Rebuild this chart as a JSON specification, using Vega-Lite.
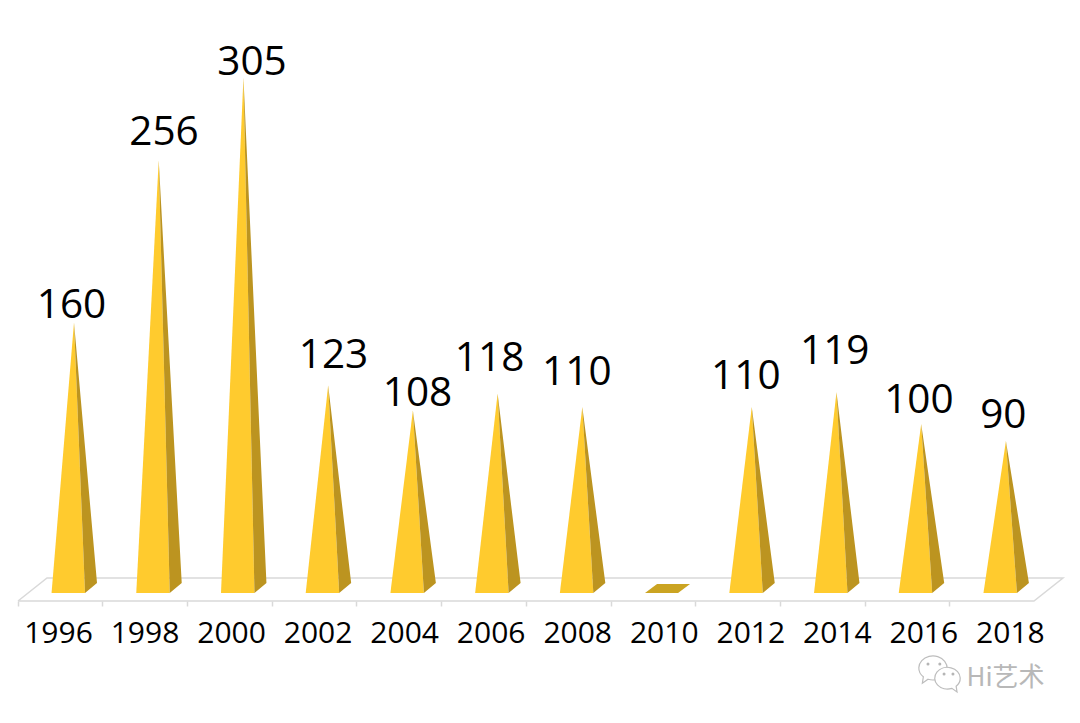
{
"$schema":"https://vega.github.io/schema/vega-lite/v6.json",
"width":1080,"height":723,"padding":0,"autosize":"none","background":"white",
"config":{"view":{"stroke":null}},
"datasets":{
"faces":[
{"year":1996,"face":"front","pos":1995.47,"top":0,"bottom":0},{"year":1996,"face":"front","pos":1996,"top":160,"bottom":0},{"year":1996,"face":"front","pos":1996.26,"top":0,"bottom":0},
{"year":1996,"face":"side","pos":1996,"top":160,"bottom":160},{"year":1996,"face":"side","pos":1996.26,"top":86.2,"bottom":0},{"year":1996,"face":"side","pos":1996.543,"top":5.9,"bottom":5.9},
{"year":1998,"face":"front","pos":1997.47,"top":0,"bottom":0},{"year":1998,"face":"front","pos":1998,"top":256,"bottom":0},{"year":1998,"face":"front","pos":1998.26,"top":0,"bottom":0},
{"year":1998,"face":"side","pos":1998,"top":256,"bottom":256},{"year":1998,"face":"side","pos":1998.26,"top":136.2,"bottom":0},{"year":1998,"face":"side","pos":1998.543,"top":5.9,"bottom":5.9},
{"year":2000,"face":"front","pos":1999.47,"top":0,"bottom":0},{"year":2000,"face":"front","pos":2000,"top":305,"bottom":0},{"year":2000,"face":"front","pos":2000.26,"top":0,"bottom":0},
{"year":2000,"face":"side","pos":2000,"top":305,"bottom":305},{"year":2000,"face":"side","pos":2000.26,"top":161.7,"bottom":0},{"year":2000,"face":"side","pos":2000.543,"top":5.9,"bottom":5.9},
{"year":2002,"face":"front","pos":2001.47,"top":0,"bottom":0},{"year":2002,"face":"front","pos":2002,"top":123,"bottom":0},{"year":2002,"face":"front","pos":2002.26,"top":0,"bottom":0},
{"year":2002,"face":"side","pos":2002,"top":123,"bottom":123},{"year":2002,"face":"side","pos":2002.26,"top":66.9,"bottom":0},{"year":2002,"face":"side","pos":2002.543,"top":5.9,"bottom":5.9},
{"year":2004,"face":"front","pos":2003.47,"top":0,"bottom":0},{"year":2004,"face":"front","pos":2004,"top":108,"bottom":0},{"year":2004,"face":"front","pos":2004.26,"top":0,"bottom":0},
{"year":2004,"face":"side","pos":2004,"top":108,"bottom":108},{"year":2004,"face":"side","pos":2004.26,"top":59.1,"bottom":0},{"year":2004,"face":"side","pos":2004.543,"top":5.9,"bottom":5.9},
{"year":2006,"face":"front","pos":2005.47,"top":0,"bottom":0},{"year":2006,"face":"front","pos":2006,"top":118,"bottom":0},{"year":2006,"face":"front","pos":2006.26,"top":0,"bottom":0},
{"year":2006,"face":"side","pos":2006,"top":118,"bottom":118},{"year":2006,"face":"side","pos":2006.26,"top":64.3,"bottom":0},{"year":2006,"face":"side","pos":2006.543,"top":5.9,"bottom":5.9},
{"year":2008,"face":"front","pos":2007.47,"top":0,"bottom":0},{"year":2008,"face":"front","pos":2008,"top":110,"bottom":0},{"year":2008,"face":"front","pos":2008.26,"top":0,"bottom":0},
{"year":2008,"face":"side","pos":2008,"top":110,"bottom":110},{"year":2008,"face":"side","pos":2008.26,"top":60.1,"bottom":0},{"year":2008,"face":"side","pos":2008.543,"top":5.9,"bottom":5.9},
{"year":2010,"face":"flat","pos":2009.48,"top":0,"bottom":0},{"year":2010,"face":"flat","pos":2009.764,"top":5.3,"bottom":0},{"year":2010,"face":"flat","pos":2010.26,"top":5.3,"bottom":0},{"year":2010,"face":"flat","pos":2010.543,"top":5.3,"bottom":5.3},
{"year":2012,"face":"front","pos":2011.47,"top":0,"bottom":0},{"year":2012,"face":"front","pos":2012,"top":110,"bottom":0},{"year":2012,"face":"front","pos":2012.26,"top":0,"bottom":0},
{"year":2012,"face":"side","pos":2012,"top":110,"bottom":110},{"year":2012,"face":"side","pos":2012.26,"top":60.1,"bottom":0},{"year":2012,"face":"side","pos":2012.543,"top":5.9,"bottom":5.9},
{"year":2014,"face":"front","pos":2013.47,"top":0,"bottom":0},{"year":2014,"face":"front","pos":2014,"top":119,"bottom":0},{"year":2014,"face":"front","pos":2014.26,"top":0,"bottom":0},
{"year":2014,"face":"side","pos":2014,"top":119,"bottom":119},{"year":2014,"face":"side","pos":2014.26,"top":64.8,"bottom":0},{"year":2014,"face":"side","pos":2014.543,"top":5.9,"bottom":5.9},
{"year":2016,"face":"front","pos":2015.47,"top":0,"bottom":0},{"year":2016,"face":"front","pos":2016,"top":100,"bottom":0},{"year":2016,"face":"front","pos":2016.26,"top":0,"bottom":0},
{"year":2016,"face":"side","pos":2016,"top":100,"bottom":100},{"year":2016,"face":"side","pos":2016.26,"top":54.9,"bottom":0},{"year":2016,"face":"side","pos":2016.543,"top":5.9,"bottom":5.9},
{"year":2018,"face":"front","pos":2017.47,"top":0,"bottom":0},{"year":2018,"face":"front","pos":2018,"top":90,"bottom":0},{"year":2018,"face":"front","pos":2018.26,"top":0,"bottom":0},
{"year":2018,"face":"side","pos":2018,"top":90,"bottom":90},{"year":2018,"face":"side","pos":2018.26,"top":49.7,"bottom":0},{"year":2018,"face":"side","pos":2018.543,"top":5.9,"bottom":5.9}
],
"floor":[
{"seq":0,"pos":1994.678,"h":-4.73},{"seq":1,"pos":1995.363,"h":8.88},{"seq":2,"pos":2019.347,"h":8.88},{"seq":3,"pos":2018.662,"h":-4.73},{"seq":4,"pos":1994.678,"h":-4.73}
],
"labels":[
{"year":1996,"value":160,"lx":1995.94,"ly":162.9},
{"year":1998,"value":256,"lx":1998.125,"ly":265.3},
{"year":2000,"value":305,"lx":2000.203,"ly":306.7},
{"year":2002,"value":123,"lx":2002.125,"ly":133.3},
{"year":2004,"value":108,"lx":2004.11,"ly":110.9},
{"year":2006,"value":118,"lx":2005.81,"ly":131.6},
{"year":2008,"value":110,"lx":2007.87,"ly":123.3},
{"year":2012,"value":110,"lx":2011.86,"ly":120.9},
{"year":2014,"value":119,"lx":2013.96,"ly":135.7},
{"year":2016,"value":100,"lx":2015.945,"ly":106.7},
{"year":2018,"value":90,"lx":2017.94,"ly":97.8}
],
"years":[{"year":1996},{"year":1998},{"year":2000},{"year":2002},{"year":2004},{"year":2006},{"year":2008},{"year":2010},{"year":2012},{"year":2014},{"year":2016},{"year":2018}],
"mark":[
{"name":"Hi艺术","pos":2017.07,"h":-55.0}
],
"bubbleA":[{"pos":2016.278,"h":-45.0}],
"bubbleB":[{"pos":2016.62,"h":-51.0}],
"eyes":[{"pos":2016.16,"h":-42.0},{"pos":2016.44,"h":-42.0},{"pos":2016.54,"h":-47.9},{"pos":2016.75,"h":-47.9}]
},
"layer":[
{"layer":[
{"data":{"name":"floor"},"mark":{"type":"line","color":"#D9D9D9","strokeWidth":1.5},
 "encoding":{
  "x":{"field":"pos","type":"quantitative","scale":{"domain":[1994.253,2019.749],"nice":false,"zero":false},
   "axis":{"orient":"bottom","values":[1996,1998,2000,2002,2004,2006,2008,2010,2012,2014,2016,2018,2020],"tickOffset":-56.5,"labels":false,"domain":false,"grid":false,"title":null,"tickSize":5,"tickColor":"#D9D9D9","tickWidth":1.5,"offset":-122}},
  "y":{"field":"h","type":"quantitative","scale":{"domain":[-76.92,350.89],"nice":false,"zero":false},"axis":null},
  "order":{"field":"seq","type":"ordinal"}}},
{"data":{"name":"faces"},"mark":{"type":"area"},
 "encoding":{
  "x":{"field":"pos","type":"quantitative"},
  "y":{"field":"top","type":"quantitative","stack":null},
  "y2":{"field":"bottom"},
  "detail":{"field":"year","type":"nominal"},
  "color":{"field":"face","type":"nominal","legend":null,"scale":{"domain":["front","side","flat"],"range":["#FFCB2E","#BC9420","#CBA422"]}}}},
{"data":{"name":"labels"},"mark":{"type":"text","font":"Open Sans","fontSize":40.5,"color":"#000000","align":"center","baseline":"alphabetic"},
 "encoding":{
  "x":{"field":"lx","type":"quantitative"},
  "y":{"field":"ly","type":"quantitative"},
  "text":{"field":"value","type":"quantitative"}}},
{"data":{"name":"bubbleA"},"mark":{"type":"point","shape":"M -1,-0.1 A 1,0.85 0 1 1 -0.35,0.72 L -0.75,1 L -0.68,0.55 A 1,0.85 0 0 1 -1,-0.1 Z","size":800,"filled":true,"fill":"#FFFFFF","stroke":"#BDBDBD","strokeWidth":1.2,"opacity":1},
 "encoding":{"x":{"field":"pos","type":"quantitative"},"y":{"field":"h","type":"quantitative"}}},
{"data":{"name":"bubbleB"},"mark":{"type":"point","shape":"M 1,-0.1 A 1,0.85 0 1 0 0.35,0.72 L 0.75,1 L 0.68,0.55 A 1,0.85 0 0 0 1,-0.1 Z","size":650,"filled":true,"fill":"#FFFFFF","stroke":"#BDBDBD","strokeWidth":1.2,"opacity":1},
 "encoding":{"x":{"field":"pos","type":"quantitative"},"y":{"field":"h","type":"quantitative"}}},
{"data":{"name":"eyes"},"mark":{"type":"point","shape":"circle","size":9,"filled":true,"color":"#B5B5B5","opacity":1},
 "encoding":{"x":{"field":"pos","type":"quantitative"},"y":{"field":"h","type":"quantitative"}}},
{"data":{"name":"mark"},"mark":{"type":"text","font":"Noto Sans CJK SC","fontSize":26,"color":"#B8B8B8","align":"left","baseline":"alphabetic"},
 "encoding":{
  "x":{"field":"pos","type":"quantitative"},
  "y":{"field":"h","type":"quantitative"},
  "text":{"field":"name","type":"nominal"}}}
]},
{"data":{"name":"years"},"mark":{"type":"tick","opacity":0},
 "encoding":{
  "x":{"field":"year","type":"quantitative","scale":{"domain":[1994.66,2019.62],"nice":false,"zero":false},
   "axis":{"orient":"bottom","values":[1996,1998,2000,2002,2004,2006,2008,2010,2012,2014,2016,2018],"format":"d","domain":false,"ticks":false,"grid":false,"title":null,"labelFont":"Open Sans","labelFontSize":30,"labelColor":"#000000","labelPadding":17,"labelFlush":false,"labelOverlap":false,"offset":-122}}}}
],
"resolve":{"scale":{"x":"independent"}}
}
